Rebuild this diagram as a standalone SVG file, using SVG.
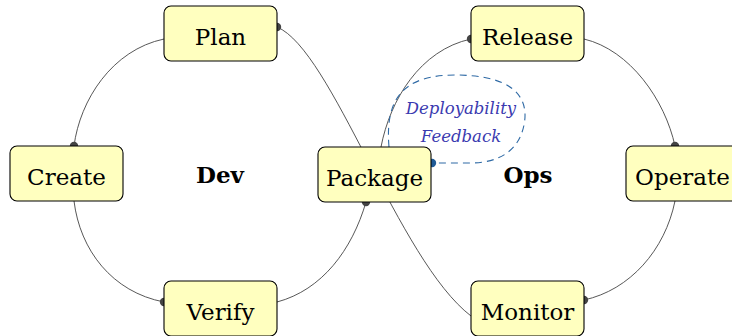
<svg xmlns="http://www.w3.org/2000/svg" width="732" height="336" viewBox="0 0 732 336">
<style>
.node rect{fill:#ffffbf;stroke:#000;stroke-width:1.1}
.conn path{fill:none;stroke:#444;stroke-width:0.9}
.dot{fill:#444}
.fb{fill:none;stroke:#2f6aa5;stroke-width:1.1;stroke-dasharray:7,5}
.sf{font-family:"DejaVu Serif",serif}
</style>
<rect width="732" height="336" fill="#fff"/>
<g class="conn">
<path d="M164,39 C112,50 80,100 74,146"/>
<path d="M74,201 C80,250 112,292 164,302"/>
<path d="M277,302 C322,290 352,250 366,202"/>
<path d="M277,27 C332,50 398,260 471,316"/>
<path d="M381,147 C390,100 420,50 471,39"/>
<path d="M584,39 C630,50 665,100 675,146"/>
<path d="M675,201 C665,250 630,290 584,300"/>
<circle class="dot" cx="74" cy="146" r="4.2"/>
<circle class="dot" cx="164" cy="302" r="4.2"/>
<circle class="dot" cx="366" cy="202" r="4.2"/>
<circle class="dot" cx="471" cy="39" r="4.2"/>
<circle class="dot" cx="675" cy="146" r="4.2"/>
<circle class="dot" cx="584" cy="300" r="4.2"/>
<circle class="dot" cx="277" cy="27" r="4.2"/>
</g>
<g id="feedback" class="sf" font-style="italic" font-size="16.5" text-anchor="middle" fill="#3a3ab0">
<path class="fb" d="M389,147 C385,100 402,75 455,75 C510,75 530,95 524,125 C519,150 500,163 470,163 L432,163"/>
<circle cx="432" cy="163" r="4.2" fill="#1f5a96"/>
<text x="461" y="114">Deployability</text>
<text x="461" y="142">Feedback</text>
</g>
<g class="sf" font-size="23" text-anchor="middle" fill="#000">
<g id="plan" class="node"><rect x="164" y="6" width="113" height="55" rx="7"/><text x="220.5" y="45">Plan</text></g>
<g id="create" class="node"><rect x="10" y="146" width="113" height="55" rx="7"/><text x="66.5" y="185">Create</text></g>
<g id="verify" class="node"><rect x="164" y="281" width="113" height="55" rx="7"/><text x="220.5" y="320">Verify</text></g>
<g id="package" class="node"><rect x="318" y="147" width="113" height="55" rx="7"/><text x="374.5" y="186">Package</text></g>
<g id="release" class="node"><rect x="471" y="6" width="113" height="55" rx="7"/><text x="527.5" y="45">Release</text></g>
<g id="operate" class="node"><rect x="626" y="146" width="113" height="55" rx="7"/><text x="682.5" y="185">Operate</text></g>
<g id="monitor" class="node"><rect x="471" y="281" width="113" height="55" rx="7"/><text x="527.5" y="320">Monitor</text></g>
<text id="dev" x="220" y="183" font-size="23" font-weight="bold">Dev</text>
<text id="ops" x="528" y="183" font-size="23" font-weight="bold">Ops</text>
</g>
</svg>
